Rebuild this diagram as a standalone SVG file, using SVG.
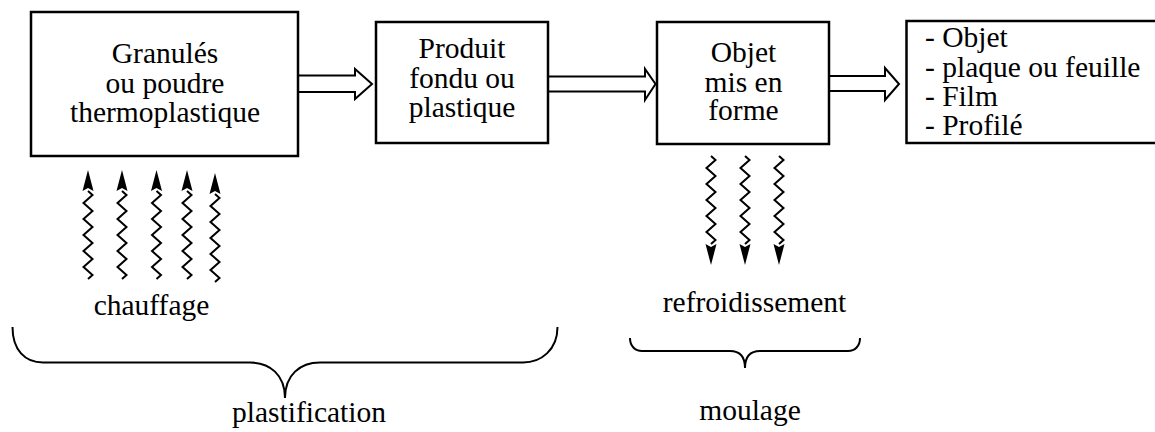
<svg xmlns="http://www.w3.org/2000/svg" xmlns:xlink="http://www.w3.org/1999/xlink" width="1155" height="432" viewBox="0 0 1155 432">
  <style>
    .box { fill: #fff; stroke: #000; stroke-width: 2.5; }
    .label { font-size: 29.5px; fill: #000; }
    .mid { text-anchor: middle; }
    .flow { fill: #fff; stroke: #000; stroke-width: 2; stroke-linejoin: miter; }
    .wave { fill: none; stroke: #000; stroke-width: 2; stroke-linejoin: miter; }
    .head { fill: #000; stroke: none; }
    .brace { fill: none; stroke: #000; stroke-width: 2; }
  </style>
  <defs>
    <!-- zigzag heat ray, 88px tall, drawn downward from its origin -->
    <path id="zigzag" class="wave" d="M0,0 l4.5,4 l-9,8 l9,8 l-9,8 l9,8 l-9,8 l9,8 l-9,8 l9,8 l-9,8 l9,8 l-4.5,4"/>
    <!-- heating ray: arrowhead on top -->
    <g id="rayUp">
      <path class="head" d="M0,0 L5.5,21 L0,18 L-5.5,21 Z"/>
      <use xlink:href="#zigzag" y="21"/>
    </g>
    <!-- cooling ray: arrowhead at the bottom -->
    <g id="rayDown">
      <use xlink:href="#zigzag" y="0"/>
      <path class="head" d="M0,109 L5.5,88 L0,91 L-5.5,88 Z"/>
    </g>
  </defs>

  <!-- connectors: hollow flow arrows, heat rays and braces -->
  <g id="connectors">
    <path class="flow" d="M298,75.5 L355,75.5 L355,69 L372,84 L355,99 L355,92 L298,92 Z"/>
    <path class="flow" d="M548,76.5 L645,76.5 L645,69 L655.5,84 L645,100 L645,91.5 L548,91.5 Z"/>
    <path class="flow" d="M829,76 L885,76 L885,68 L899,84 L885,100 L885,91 L829,91 Z"/>

    <use xlink:href="#rayUp" x="88" y="170"/>
    <use xlink:href="#rayUp" x="122" y="170"/>
    <use xlink:href="#rayUp" x="156.5" y="170"/>
    <use xlink:href="#rayUp" x="187" y="170"/>
    <use xlink:href="#rayUp" x="215" y="173"/>

    <use xlink:href="#rayDown" x="711" y="156"/>
    <use xlink:href="#rayDown" x="745" y="156"/>
    <use xlink:href="#rayDown" x="779" y="156"/>

    <path class="brace" d="M12.5,327 C12.5,350 25,362.5 43,362.5 L250,362.5 C270,362.5 285,375 285,398 C285,375 300,362.5 320,362.5 L523,362.5 C541,362.5 557.5,350 557.5,327"/>
    <path class="brace" d="M630,338 C630,346 635,351 642,351 L730,351 C739,351 745,356 745,368 C745,356 751,351 760,351 L848,351 C855,351 860,346 860,338"/>
  </g>

  <g font-family="Liberation Serif, Times New Roman, serif">
    <g id="granules">
      <rect class="box" x="31" y="12" width="267" height="144"/>
      <text class="label mid" x="165" y="63">Granulés</text>
      <text class="label mid" x="165" y="93">ou poudre</text>
      <text class="label mid" x="165" y="122">thermoplastique</text>
    </g>

    <g id="produit">
      <rect class="box" x="376" y="22" width="172" height="121"/>
      <text class="label mid" x="462" y="58">Produit</text>
      <text class="label mid" x="462" y="88">fondu ou</text>
      <text class="label mid" x="462" y="117">plastique</text>
    </g>

    <g id="objet">
      <rect class="box" x="657" y="22" width="172" height="122"/>
      <text class="label mid" x="743.5" y="62">Objet</text>
      <text class="label mid" x="743.5" y="92">mis en</text>
      <text class="label mid" x="743.5" y="120">forme</text>
    </g>

    <g id="produits-finis">
      <rect class="box" x="906.5" y="21" width="260" height="122"/>
      <text class="label" x="925" y="46.5">- Objet</text>
      <text class="label" x="925" y="76.5">- plaque ou feuille</text>
      <text class="label" x="925" y="105.5">- Film</text>
      <text class="label" x="925" y="135">- Profilé</text>
    </g>

    <g id="chauffage">
      <text class="label mid" x="151.5" y="315">chauffage</text>
    </g>
    <g id="plastification">
      <text class="label" x="232" y="422">plastification</text>
    </g>
    <g id="refroidissement">
      <text class="label mid" x="754.5" y="312">refroidissement</text>
    </g>
    <g id="moulage">
      <text class="label mid" x="750" y="420">moulage</text>
    </g>
  </g>
</svg>
